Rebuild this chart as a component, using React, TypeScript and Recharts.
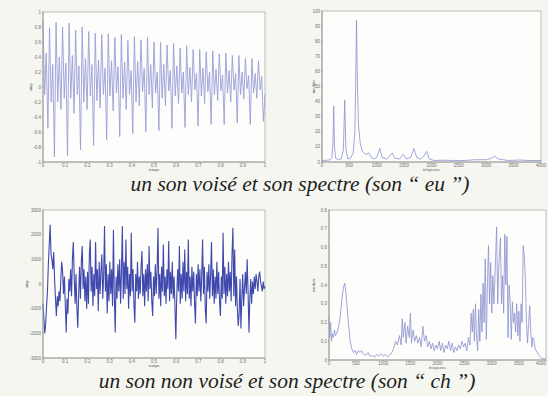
import React from "react";
import { LineChart, Line, XAxis, YAxis, ReferenceArea, CartesianGrid } from "recharts";

// son "eu" : signal temporel (amplitude normalisée)
const voicedWave = [
  0.88, -0.1, 0.45, -0.55, 0.79, -0.2, 0.3, -0.93,
  0.86, -0.2, 0.4, -0.3, 0.8, -0.15, 0.32, -0.92,
  0.85, -0.15, 0.42, -0.35, 0.76, -0.1, 0.28, -0.84,
  0.8, -0.2, 0.38, -0.3, 0.74, -0.12, 0.3, -0.78,
  0.72, -0.18, 0.36, -0.28, 0.7, -0.1, 0.25, -0.7,
  0.71, -0.12, 0.35, -0.32, 0.66, -0.08, 0.27, -0.66,
  0.7, -0.15, 0.33, -0.3, 0.62, -0.1, 0.22, -0.62,
  0.67, -0.2, 0.34, -0.25, 0.63, -0.06, 0.25, -0.6,
  0.66, -0.1, 0.3, -0.28, 0.6, -0.08, 0.2, -0.58,
  0.6, -0.15, 0.3, -0.25, 0.56, -0.05, 0.22, -0.55,
  0.58, -0.12, 0.28, -0.22, 0.52, -0.08, 0.2, -0.54,
  0.55, -0.1, 0.26, -0.2, 0.5, -0.04, 0.18, -0.52,
  0.5, -0.12, 0.25, -0.22, 0.47, -0.06, 0.2, -0.5,
  0.48, -0.1, 0.24, -0.18, 0.44, -0.05, 0.16, -0.5,
  0.45, -0.08, 0.22, -0.2, 0.42, -0.04, 0.18, -0.48,
  0.42, -0.1, 0.2, -0.16, 0.38, -0.02, 0.15, -0.5,
  0.38, -0.08, 0.18, -0.15, 0.35, -0.04, 0.14, -0.46,
  -0.1,
];

// son "eu" : spectre
const voicedFreq = [
  0, 50, 100, 150, 180, 200, 214, 228, 250, 300, 350, 390, 415, 435, 470, 520,
  570, 600, 615, 630, 645, 665, 700, 740, 800, 855, 900, 950, 1000, 1056, 1100,
  1180, 1240, 1282, 1330, 1420, 1484, 1540, 1620, 1679, 1730, 1800, 1860, 1911,
  1960, 2050, 2200, 2400, 2600, 2800, 3000, 3100, 3150, 3220, 3400, 3600, 3800, 4000,
];
const voicedMag = [
  1, 1, 1.2, 1.5, 3, 12, 37, 10, 2.5, 1.5, 2, 8, 41, 9, 2, 2.5,
  6, 20, 50, 94, 55, 25, 12, 7, 5, 6, 3, 2, 3, 9, 3,
  2, 4, 6, 2.5, 2, 5, 2, 3, 9, 3, 2, 4, 7,
  2, 1, 1.2, 1, 1, 1.5, 1.5, 2.5, 4, 2, 1, 1.3, 1, 1,
];

// son "ch" : signal temporel
const unvoicedWave = [
  -800, -1400, -2000, -1600, -900, -300, 800, 1600, 2400, 1200,
  1000, 600, 1300, 200, -600, -1300, -500, -900, -300, -700,
  200, 900, 500, -400, 300, -800, -1970, -600, -1200, 200,
  -300, 600, -500, 1000, 1700, 300, -800, 400, -1000, -1770,
  -400, 700, -600, 900, 1540, -200, 600, -700, 300, -1000,
  500, -800, 1200, 1800, -300, 700, -900, 400, -500, 1700,
  -200, 600, -1100, 900, -400, 500, 1200, -600, 300, 2350,
  -300, 800, -1200, 400, -700, 900, -400, 600, -900, 2200,
  -500, -1970, 300, -600, 800, -300, 1000, -800, 500, 2350,
  -600, 900, -400, 1800, -200, 700, -1000, 400, -500, 2080,
  -300, 600, -800, -1570, 400, -300, 900, -600, 300, -400,
  700, 1340, -500, 400, -900, 600, -300, 800, -700, 1540,
  -200, 500, -700, -1300, 300, -500, 800, -400, 600, 2280,
  -600, 400, -900, 700, -300, 1600, -500, 300, -800, 600,
  -200, 1740, -700, 500, -400, 900, -600, 300, -900, -2240,
  -500, 600, -300, 1540, -800, 400, -600, 900, -300, 1400,
  -700, 500, -400, 1800, -600, 300, -900, 700, -300, 500,
  -800, -1600, 400, -500, 800, -300, 600, -700, 300, 1800,
  -400, 700, -1000, -1600, 500, -300, 800, -600, 400, 1700,
  -500, 600, -800, 300, -600, 900, -400, 500, -700, -1300,
  300, -600, 2080, -400, 700, -800, 400, -500, 900, -300,
  500, -700, 1200, 2280, -500, 1400, -900, 300, -1000, -1700,
  -1200, 200, -1800, -600, 400, -900, -200, 500, -400, 1000,
  -300, -1970, -600, 200, -800, 100, -400, 300, -200, 400,
  100, -300, 300, 500, 100, -100, -300, 100, -200, -100,
];

// son "ch" : spectre
const unvoicedFreq = [
  0, 15, 30, 45, 60, 80, 100, 120, 150, 180, 210, 240, 270, 290, 310, 335, 360, 390,
  420, 450, 480, 510, 540, 570, 600, 640, 680, 720, 760, 800, 840, 880, 920, 960,
  1000, 1040, 1080, 1120, 1160, 1200, 1230, 1260, 1300, 1330, 1350, 1370, 1400, 1420,
  1450, 1480, 1500, 1520, 1550, 1580, 1610, 1640, 1670, 1700, 1730, 1760, 1790, 1820,
  1850, 1880, 1910, 1940, 1970, 2000, 2030, 2060, 2090, 2120, 2150, 2180, 2210, 2240,
  2270, 2300, 2330, 2360, 2390, 2420, 2450, 2480, 2510, 2540, 2570, 2600, 2620, 2640,
  2660, 2680, 2700, 2720, 2740, 2760, 2780, 2800, 2820, 2840, 2860, 2880, 2900, 2920,
  2940, 2960, 2980, 3000, 3020, 3040, 3060, 3090, 3110, 3130, 3160, 3180, 3200, 3220,
  3240, 3260, 3280, 3300, 3320, 3340, 3360, 3380, 3400, 3420, 3440, 3460, 3480, 3500,
  3520, 3540, 3560, 3580, 3600, 3620, 3640, 3660, 3680, 3700, 3720, 3740, 3760, 3780,
  3800, 3840, 3880, 3920, 4000,
];
const unvoicedMag = [
  0.23, 0.12, 0.2, 0.1, 0.14, 0.12, 0.16, 0.13, 0.15, 0.18, 0.24, 0.33, 0.39, 0.41, 0.36, 0.28, 0.19, 0.1,
  0.06, 0.04, 0.05, 0.03, 0.05, 0.04, 0.05, 0.03, 0.025, 0.04, 0.02, 0.025, 0.015, 0.03, 0.02, 0.035,
  0.02, 0.03, 0.015, 0.03, 0.04, 0.07, 0.1, 0.08, 0.13, 0.08, 0.22, 0.12, 0.2, 0.09,
  0.18, 0.12, 0.25, 0.09, 0.16, 0.1, 0.13, 0.09, 0.12, 0.07, 0.18, 0.1, 0.13, 0.07,
  0.1, 0.06, 0.09, 0.05, 0.08, 0.06, 0.1, 0.05, 0.09, 0.04, 0.08, 0.06, 0.1, 0.05,
  0.09, 0.04, 0.07, 0.05, 0.08, 0.06, 0.1, 0.07, 0.09, 0.05, 0.12, 0.08, 0.25, 0.15,
  0.27, 0.1, 0.3, 0.12, 0.05, 0.27, 0.1, 0.35, 0.15, 0.41, 0.2, 0.54, 0.11, 0.4,
  0.61, 0.3, 0.52, 0.25, 0.45, 0.3, 0.45, 0.71, 0.3, 0.5, 0.65, 0.3, 0.45, 0.25,
  0.67, 0.4, 0.66, 0.12, 0.4, 0.3, 0.11, 0.31, 0.2, 0.25, 0.15, 0.3, 0.13, 0.26,
  0.1, 0.3, 0.2, 0.61, 0.55, 0.43, 0.2, 0.09, 0.2, 0.29, 0.15, 0.07, 0.12, 0.1,
  0.06, 0.04, 0.02, 0.01, 0.005,
];

const timeTicks = [0, 0.1, 0.2, 0.3, 0.4, 0.5, 0.6, 0.7, 0.8, 0.9, 1];
const freqTicks = [0, 500, 1000, 1500, 2000, 2500, 3000, 3500, 4000];
const voicedWaveTicks = [-1, -0.8, -0.6, -0.4, -0.2, 0, 0.2, 0.4, 0.6, 0.8, 1];
const voicedMagTicks = [0, 10, 20, 30, 40, 50, 60, 70, 80, 90, 100];
const unvoicedWaveTicks = [-3000, -2000, -1000, 0, 1000, 2000, 3000];
const unvoicedMagTicks = [0, 0.1, 0.2, 0.3, 0.4, 0.5, 0.6, 0.7, 0.8];

const captions = [
  "un son voisé et son spectre (son “ eu ”)",
  "un son non voisé et son spectre (son “ ch ”)",
];

const waveRows = (vals: number[]) =>
  vals.map((v, i) => ({ x: i / (vals.length - 1), y: v }));
const specRows = (freqs: number[], mags: number[]) =>
  freqs.map((f, i) => ({ x: f, y: mags[i] }));

const tickStyle = { fontSize: 4.5, fill: "#707070", fontFamily: "Liberation Sans" };
const frameColor = "#a0a0a0";

// bottom tick; the last label can be right-aligned when the panel touches the edge
function XTick(props: any) {
  const { x, y, payload, endAlignMax } = props;
  const anchor = endAlignMax !== undefined && payload.value === endAlignMax ? "end" : "middle";
  return (
    <text x={x} y={y} dy="0.71em" textAnchor={anchor} {...tickStyle}>
      {payload.value}
    </text>
  );
}

type PanelProps = {
  data: { x: number; y: number }[];
  xDomain: [number, number];
  yDomain: [number, number];
  xTicks: number[];
  yTicks: number[];
  color: string;
  sw: number;
  xLabel: string;
  yLabel: string;
  yLabelDx: number;
  left: number;
  top: number;
  width: number;
  margin: { top: number; right: number; bottom: number; left: number };
  yAxisWidth: number;
  endAlignMax?: number;
};

function Panel(p: PanelProps) {
  return (
    <div style={{ position: "absolute", left: p.left, top: p.top }}>
      <LineChart width={p.width} height={180} data={p.data} margin={p.margin}>
        <CartesianGrid horizontal={false} vertical={false} fill="#fdfdfb" />
        <XAxis
          dataKey="x"
          type="number"
          domain={p.xDomain}
          ticks={p.xTicks}
          interval={0}
          height={12}
          tickSize={1}
          tickMargin={1}
          tick={<XTick endAlignMax={p.endAlignMax} />}
          stroke={frameColor}
          label={{ value: p.xLabel, position: "insideBottom", offset: 3, fontSize: 4.5, fill: "#555" }}
        />
        <YAxis
          type="number"
          domain={p.yDomain}
          ticks={p.yTicks}
          interval={0}
          width={p.yAxisWidth}
          tickSize={1}
          tickMargin={1}
          tick={tickStyle}
          stroke={frameColor}
          label={{ value: p.yLabel, angle: -90, position: "center", dx: p.yLabelDx, fontSize: 4.5, fill: "#555" }}
        />
        <ReferenceArea
          x1={p.xDomain[0]}
          x2={p.xDomain[1]}
          y1={p.yDomain[0]}
          y2={p.yDomain[1]}
          fill="none"
          stroke={frameColor}
          strokeWidth={0.7}
        />
        <Line
          type="linear"
          dataKey="y"
          stroke={p.color}
          strokeWidth={p.sw}
          dot={false}
          isAnimationActive={false}
        />
      </LineChart>
    </div>
  );
}

export default function App() {
  const captionStyle: React.CSSProperties = {
    position: "absolute",
    width: 440,
    textAlign: "center",
    fontFamily: "Liberation Serif",
    fontStyle: "italic",
    fontSize: 21.5,
    lineHeight: "18px",
    color: "#1e1e1e",
    whiteSpace: "nowrap",
  };
  return (
    <div style={{ position: "relative", width: 548, height: 396, background: "#f6f6f0", overflow: "hidden" }}>
      <style>{"body{margin:0}"}</style>
      <Panel
        data={waveRows(voicedWave)}
        xDomain={[0, 1]}
        yDomain={[-1, 1]}
        xTicks={timeTicks}
        yTicks={voicedWaveTicks}
        color="#9a9ed8"
        sw={0.9}
        xLabel="temps"
        yLabel="amp"
        yLabelDx={9}
        left={0}
        top={0}
        width={275}
        margin={{ top: 12, right: 10, bottom: 6, left: 0 }}
        yAxisWidth={43}
      />
      <Panel
        data={specRows(voicedFreq, voicedMag)}
        xDomain={[0, 4000]}
        yDomain={[0, 100]}
        xTicks={freqTicks}
        yTicks={voicedMagTicks}
        color="#8a90d0"
        sw={0.8}
        xLabel="fréquence"
        yLabel="module"
        yLabelDx={15}
        left={274}
        top={0}
        width={274}
        margin={{ top: 11, right: 7, bottom: 6, left: 0 }}
        yAxisWidth={48}
      />
      <Panel
        data={waveRows(unvoicedWave)}
        xDomain={[0, 1]}
        yDomain={[-3000, 3000]}
        xTicks={timeTicks}
        yTicks={unvoicedWaveTicks}
        color="#3f48ad"
        sw={1.1}
        xLabel="temps"
        yLabel="amp"
        yLabelDx={5}
        left={0}
        top={196}
        width={275}
        margin={{ top: 14, right: 10, bottom: 6, left: 0 }}
        yAxisWidth={43}
      />
      <Panel
        data={specRows(unvoicedFreq, unvoicedMag)}
        xDomain={[0, 4000]}
        yDomain={[0, 0.8]}
        xTicks={freqTicks}
        yTicks={unvoicedMagTicks}
        color="#8a90d0"
        sw={0.8}
        xLabel="fréquence"
        yLabel="module"
        yLabelDx={12}
        left={274}
        top={196}
        width={274}
        margin={{ top: 14, right: 2, bottom: 4, left: 0 }}
        yAxisWidth={55}
        endAlignMax={4000}
      />
      <div style={{ ...captionStyle, left: 80, top: 175 }}>{captions[0]}</div>
      <div style={{ ...captionStyle, left: 67, top: 372 }}>{captions[1]}</div>
    </div>
  );
}
